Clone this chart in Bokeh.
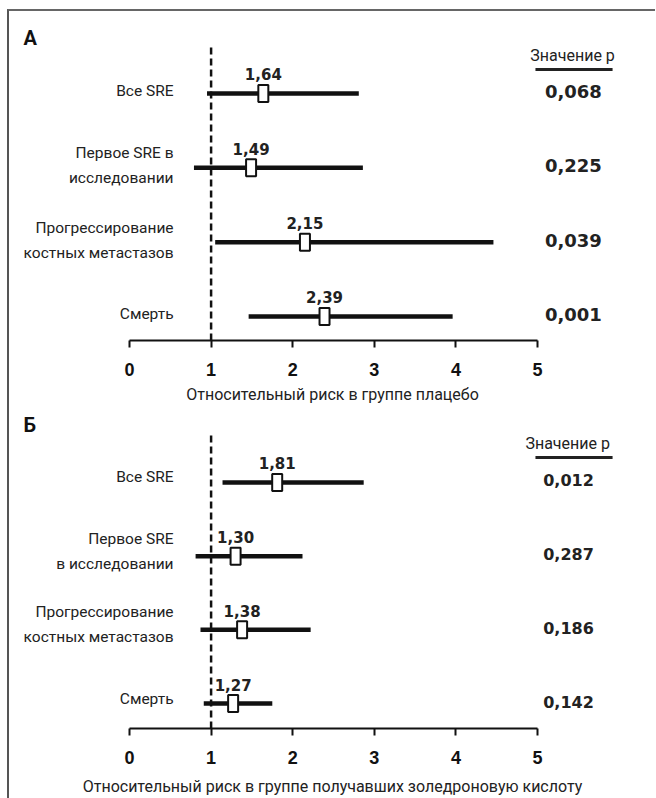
from bokeh.plotting import figure
from bokeh.layouts import column
from bokeh.models import Range1d, FixedTicker, ColumnDataSource
from bokeh.core.properties import value
from bokeh.embed import file_html
from bokeh.resources import INLINE

# ---------------- data ----------------
ticks = [0, 1, 2, 3, 4, 5]

labels_a = ["Все SRE", "Первое SRE в\nисследовании", "Прогрессирование\nкостных метастазов", "Смерть"]
hr_a = [1.64, 1.49, 2.15, 2.39]
lo_a = [0.95, 0.79, 1.05, 1.46]
hi_a = [2.81, 2.86, 4.46, 3.96]
p_a = ["0,068", "0,225", "0,039", "0,001"]
title_a = "Относительный риск в группе плацебо"

labels_b = ["Все SRE", "Первое SRE\nв исследовании", "Прогрессирование\nкостных метастазов", "Смерть"]
hr_b = [1.81, 1.30, 1.38, 1.27]
lo_b = [1.14, 0.81, 0.87, 0.91]
hi_b = [2.87, 2.12, 2.22, 1.75]
p_b = ["0,012", "0,287", "0,186", "0,142"]
title_b = "Относительный риск в группе получавших золедроновую кислоту"

header = "Значение p"

LABEL_FONT = "Roboto"
NUM_FONT = "DejaVu Sans"
TICK_FONT = "Liberation Sans"
W = 646
X0, X1 = -1.4706, (W - 120) / 81.6


def panel(letter, labels, hr, lo, hi, pv, title, height, mb, yr, letter_y, dash_top,
          head_x, head_y, under_y, p_size, lab_off, title_standoff):
    p = figure(width=W, height=height, x_range=Range1d(X0, X1), y_range=Range1d(*yr),
               output_backend="svg", toolbar_location=None,
               min_border_left=0, min_border_right=0, min_border_top=0, min_border_bottom=mb)
    p.yaxis.visible = False
    p.grid.visible = False
    p.outline_line_color = None
    p.background_fill_color = "white"
    p.border_fill_color = "white"

    rows = list(range(len(labels)))
    src = ColumnDataSource(dict(
        y=rows, hr=hr, lo=lo, hi=hi, lab=labels, pv=pv,
        hrtxt=[f"{v:.2f}".replace(".", ",") for v in hr],
        lx=[0.54] * len(rows), px=[head_x + 0.01] * len(rows),
    ))

    # reference line at RR = 1
    p.segment(x0=[1], y0=[dash_top], x1=[1], y1=[yr[0]], line_color="#111",
              line_width=2.5, line_dash="7 4")
    # CI lines
    p.segment(x0="lo", y0="y", x1="hi", y1="y", source=src, line_color="#111", line_width=4.5)
    # point estimates
    p.rect(x="hr", y="y", width=10, height=17, width_units="screen", height_units="screen",
           source=src, fill_color="white", line_color="#111", line_width=2)
    # value labels
    p.text(x="hr", y="y", text="hrtxt", source=src, text_align="center", text_baseline="middle",
           y_offset=-19, text_font=value(NUM_FONT), text_font_style="bold",
           text_font_size="15px", text_color="#222")
    # row labels
    p.text(x="lx", y="y", text="lab", source=src, text_align="right", text_baseline="middle",
           y_offset=lab_off, text_font=value(LABEL_FONT), text_font_size="15.5px",
           text_line_height=1.4, text_color="#222")
    # p values
    p.text(x="px", y="y", text="pv", source=src, text_align="center", text_baseline="middle",
           y_offset=-2, text_font=value(NUM_FONT), text_font_style="bold",
           text_font_size=p_size, text_color="#222")
    # header
    p.text(x=[head_x], y=[head_y], text=[header], text_align="center", text_baseline="middle",
           text_font=value(LABEL_FONT), text_font_size="16px", text_color="#222")
    p.segment(x0=[4.975], y0=[under_y], x1=[5.92], y1=[under_y], line_color="#222", line_width=3)
    # panel letter
    p.text(x=[-1.30], y=[letter_y], text=[letter], text_align="left", text_baseline="middle",
           text_font=value(LABEL_FONT), text_font_style="bold",
           text_font_size="20px", text_color="#111")

    ax = p.xaxis[0]
    ax.ticker = FixedTicker(ticks=ticks)
    ax.bounds = (0, 5)
    ax.axis_line_width = 2
    ax.axis_line_color = "#111"
    ax.major_tick_line_width = 2
    ax.major_tick_line_color = "#111"
    ax.major_tick_out = 7
    ax.major_tick_in = 0
    ax.minor_tick_line_color = None
    ax.major_label_text_font = TICK_FONT
    ax.major_label_text_font_style = "bold"
    ax.major_label_text_font_size = "18px"
    ax.major_label_text_color = "#111"
    ax.major_label_standoff = 15
    ax.axis_label = title
    ax.axis_label_text_font = LABEL_FONT
    ax.axis_label_text_font_style = "normal"
    ax.axis_label_text_font_size = "16px"
    ax.axis_label_text_color = "#222"
    ax.axis_label_standoff = title_standoff
    return p


pa = panel("А", labels_a, hr_a, lo_a, hi_a, p_a, title_a, 399, 70, (3.323, -1.103),
           -0.753, -0.619, 5.43, -0.511, -0.323, "18px", -2, 6)
pb = panel("Б", labels_b, hr_b, lo_b, hi_b, p_b, title_b, 388, 70, (3.339, -0.977),
           -0.774, -0.638, 5.37, -0.529, -0.339, "16px", -5, 10)

layout = column(pa, pb, spacing=0,
                styles={"border-left": "2px solid #555", "border-top": "2px solid #666",
                        "margin-left": "7px", "margin-top": "9px",
                        "background-color": "white"})

open("out.html", "w").write(file_html(layout, INLINE))
